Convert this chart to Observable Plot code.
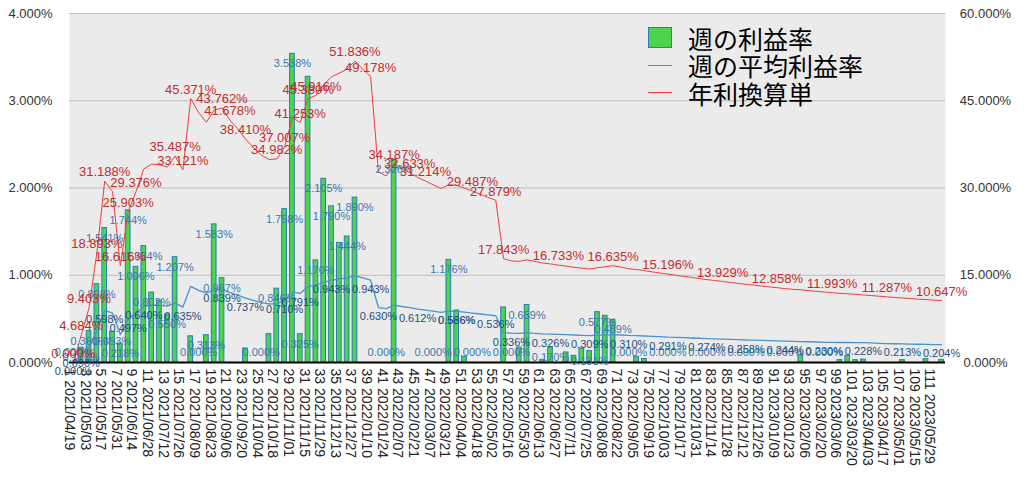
<!DOCTYPE html>
<html>
<head>
<meta charset="utf-8">
<script src="https://cdn.jsdelivr.net/npm/d3@7"></script>
<script src="https://cdn.jsdelivr.net/npm/@observablehq/plot@0.6"></script>
<style>
  body { margin: 0; background: #fff; }
  #wrap { position: relative; width: 1024px; height: 478px; }
  #legend { position: absolute; left: 648px; top: 24px; font-family: "Noto Sans CJK JP", sans-serif; font-size: 25px; color: #000; }
  #legend .row { display: flex; align-items: center; height: 27.5px; }
  #legend .sw { width: 24px; margin-right: 16px; flex: none; }
  #legend .box { height: 21px; background: #4cd44c; border: 1px solid #2b7bb9; box-sizing: border-box; }
  #legend .ln { height: 0; border-top: 1.5px solid; }
</style>
</head>
<body>
<div id="wrap">
  <div id="chart"></div>
  <div id="legend"></div>
</div>
<script>
// ---- data ----
const weekNums = Array.from({length: 112}, (_, i) => i + 1);

// 週の利益率 (weekly profit rate, %)
const weeklyRate = [
  0, 0.170, 0.360, 0.898, 1.541, 0.353, 0.218, 1.744, 1.096, 1.334,
  0.802, 0.707, 0.550, 1.207, 0, 0.300, 0, 0.313, 1.583, 0.967,
  0, 0, 0.160, 0, 0, 0.325, 0.846, 1.758, 3.538, 0.325,
  3.274, 1.170, 2.105, 1.790, 1.370, 1.444, 1.890, 0, 0, 0,
  0, 2.326, 0, 0, 0, 0, 0, 0, 1.176, 0.596,
  0.065, 0, 0, 0, 0, 0.630, 0, 0.172, 0.659, 0,
  0.030, 0.170, 0, 0.115, 0.076, 0.160, 0.131, 0.577, 0.535, 0.489,
  0, 0, 0.065, 0.040, 0, 0, 0, 0, 0, 0,
  0, 0, 0, 0, 0, 0, 0, 0, 0, 0,
  0, 0, 0, 0.085, 0, 0, 0, 0, 0.027, 0.076,
  0.027, 0.034, 0, 0, 0, 0, 0.027, 0, 0, 0.038,
  0, 0.030
];

// 週の平均利益率 (average weekly profit rate, %)
const avgRate = [
  0.000, 0.090, 0.181, 0.363, 0.598, 0.565, 0.320, 0.497, 0.565, 0.640,
  0.656, 0.654, 0.646, 0.682, 0.635, 0.873, 0.827, 0.794, 0.835, 0.839,
  0.802, 0.773, 0.737, 0.712, 0.687, 0.671, 0.673, 0.710, 0.810, 0.791,
  0.873, 0.883, 0.919, 0.943, 0.957, 0.970, 0.997, 0.969, 0.943, 0.630,
  0.617, 0.657, 0.642, 0.628, 0.612, 0.600, 0.588, 0.575, 0.588, 0.586,
  0.577, 0.567, 0.556, 0.546, 0.536, 0.343, 0.336, 0.334, 0.340, 0.334,
  0.329, 0.326, 0.322, 0.319, 0.315, 0.312, 0.309, 0.313, 0.317, 0.320,
  0.315, 0.310, 0.307, 0.304, 0.300, 0.296, 0.291, 0.288, 0.285, 0.281,
  0.278, 0.274, 0.271, 0.268, 0.265, 0.262, 0.258, 0.256, 0.253, 0.250,
  0.247, 0.244, 0.242, 0.240, 0.238, 0.235, 0.230, 0.230, 0.229, 0.229,
  0.228, 0.228, 0.224, 0.220, 0.217, 0.215, 0.213, 0.211, 0.209, 0.208,
  0.206, 0.204
];

// 年利換算単 (annualized, %, right axis)
const annualRate = [
  0.000, 4.684, 9.403, 18.893, 31.188, 29.400, 16.616, 25.903, 29.376, 33.280,
  34.100, 34.000, 33.600, 35.487, 33.121, 45.371, 43.000, 41.300, 43.400, 43.762,
  41.678, 40.200, 38.410, 37.000, 35.700, 34.900, 34.982, 37.007, 42.100, 41.253,
  45.380, 45.916, 47.800, 49.120, 49.750, 50.450, 51.836, 50.400, 49.178, 32.760,
  32.060, 34.187, 33.390, 32.633, 31.820, 31.214, 30.550, 29.910, 30.550, 30.470,
  29.980, 29.487, 28.930, 28.390, 27.879, 17.843, 17.472, 17.380, 17.660, 17.370,
  17.110, 16.952, 16.733, 16.570, 16.360, 16.230, 16.068, 16.290, 16.460, 16.635,
  16.400, 16.120, 15.990, 15.790, 15.580, 15.380, 15.196, 15.000, 14.810, 14.630,
  14.440, 14.250, 14.100, 13.929, 13.760, 13.600, 13.420, 13.300, 13.150, 13.000,
  12.858, 12.690, 12.580, 12.500, 12.370, 12.240, 12.120, 11.993, 11.890, 11.810,
  11.710, 11.610, 11.510, 11.400, 11.287, 11.180, 11.090, 10.990, 10.890, 10.820,
  10.720, 10.647
];

// x tick labels (every other week)
const xTickWeeks = [1,3,5,7,9,11,13,15,17,19,21,23,25,27,29,31,33,35,37,39,41,43,45,47,49,51,53,55,57,59,61,63,65,67,69,71,73,75,77,79,81,83,85,87,89,91,93,95,97,99,101,103,105,107,109,111];
const xTickDates = [
  "2021/04/19","2021/05/03","2021/05/17","2021/05/31","2021/06/14","2021/06/28","2021/07/12","2021/07/26",
  "2021/08/09","2021/08/23","2021/09/06","2021/09/20","2021/10/04","2021/10/18","2021/11/01","2021/11/15",
  "2021/11/29","2021/12/13","2021/12/27","2022/01/10","2022/01/24","2022/02/07","2022/02/21","2022/03/07",
  "2022/03/21","2022/04/04","2022/04/18","2022/05/02","2022/05/16","2022/05/30","2022/06/13","2022/06/27",
  "2022/07/11","2022/07/25","2022/08/08","2022/08/22","2022/09/05","2022/09/19","2022/10/03","2022/10/17",
  "2022/10/31","2022/11/14","2022/11/28","2022/12/12","2022/12/26","2023/01/09","2023/01/23","2023/02/06",
  "2023/02/20","2023/03/06","2023/03/20","2023/04/03","2023/04/17","2023/05/01","2023/05/15","2023/05/29"
];
const leftTicks = [0, 1, 2, 3, 4];
const leftTickLabels = ["0.000%", "1.000%", "2.000%", "3.000%", "4.000%"];
const rightTickLabels = ["0.000%", "15.000%", "30.000%", "45.000%", "60.000%"];
const leftMax = 4, rightMax = 60;

// weeks whose data labels are visible in the reference
const redLabelWeeks = [1,2,3,4,5,7,8,9,14,15,16,20,21,23,27,28,30,31,32,37,39,42,44,46,52,55,56,63,70,77,84,91,98,105,112];
const blueLabelWeeks = [1,2,5,8,10,15,20,23,28,30,34,39,40,45,50,55,57,62,67,72,77,82,87,92,97,102,107,112];
const barLabelWeeks = [2,3,4,5,6,7,8,9,10,11,13,14,18,19,20,27,28,29,30,32,33,34,36,37,42,49,50,59,62,67,68,70];
const zeroLabelWeeks = [1,17,25,41,47,52,57,72,77,82,87,92,97];

const seriesNames = ["週の利益率", "週の平均利益率", "年利換算単"];
const colors = { bar: "#4cd44c", barStroke: "#2b7bb9", avg: "#4b94cc", annual: "#f23c3c",
                 annualText: "#c42b2b", avgText: "#1d4f80", barText: "#3b78ad" };

// ---- build ----
const data = weekNums.map((w, i) => ({ week: w, rate: weeklyRate[i], avg: avgRate[i], annual: annualRate[i] }));
const toLeft = v => v * leftMax / rightMax;
const pct = v => v.toFixed(3) + "%";

const chart = Plot.plot({
  width: 1024,
  height: 478,
  marginLeft: 69,
  marginRight: 79,
  marginTop: 13,
  marginBottom: 116,
  style: { fontFamily: '"Liberation Sans", Arial, sans-serif', background: "#fff", overflow: "visible" },
  x: { type: "band", domain: weekNums, paddingInner: 0.4, paddingOuter: 0.2, axis: null, label: null },
  y: { domain: [0, leftMax], axis: null, label: null },
  marks: [
    Plot.frame({ fill: "#ebebeb", stroke: null }),
    Plot.gridY(leftTicks.slice(1), { stroke: "#bdbdbd", strokeOpacity: 1, strokeWidth: 1 }),
    Plot.barY(data.filter(d => d.rate > 0), { x: "week", y: "rate", fill: colors.bar, stroke: colors.barStroke, strokeWidth: 1 }),
    Plot.line(data, { x: "week", y: "avg", stroke: colors.avg, strokeWidth: 1.3 }),
    Plot.line(data, { x: "week", y: d => toLeft(d.annual), stroke: colors.annual, strokeWidth: 1 }),
    Plot.ruleY([0], { stroke: "#000", strokeWidth: 2 }),
    Plot.axisY({ ticks: leftTicks, tickFormat: d => leftTickLabels[leftTicks.indexOf(d)], tickSize: 0, tickPadding: 17, fontSize: 13, color: "#333", label: null }),
    Plot.axisY({ anchor: "right", ticks: leftTicks, tickFormat: d => rightTickLabels[leftTicks.indexOf(d)], tickSize: 0, tickPadding: 40, textAnchor: "middle", fontSize: 13, color: "#333", label: null }),
    Plot.axisX({ ticks: xTickWeeks, tickFormat: w => `${w} ${xTickDates[xTickWeeks.indexOf(w)]}`, tickRotate: 90, tickSize: 0, tickPadding: 6, fontSize: 14, color: "#222", dx: -4, label: null }),
    Plot.text(data.filter(d => barLabelWeeks.includes(d.week)), { x: "week", y: "rate", text: d => pct(d.rate), fill: colors.barText, fontSize: 11, dy: 10 }),
    Plot.text(data.filter(d => zeroLabelWeeks.includes(d.week)), { x: "week", y: "rate", text: d => pct(d.rate), fill: colors.barText, fontSize: 11, dy: -10 }),
    Plot.text(data.filter(d => blueLabelWeeks.includes(d.week)), { x: "week", y: "avg", text: d => pct(d.avg), fill: colors.avgText, fontSize: 11, dy: 9 }),
    Plot.text(data.filter(d => redLabelWeeks.includes(d.week)), { x: "week", y: d => toLeft(d.annual), text: d => pct(d.annual), fill: colors.annualText, fontSize: 13, dy: -9 })
  ]
});
document.getElementById("chart").appendChild(chart);

// legend (inside plot area, top right)
const legend = document.getElementById("legend");
const swatches = [
  '<div class="sw box"></div>',
  `<div class="sw ln" style="border-color:${colors.avg}"></div>`,
  `<div class="sw ln" style="border-color:${colors.annual}"></div>`
];
seriesNames.forEach((name, i) => {
  const row = document.createElement("div");
  row.className = "row";
  row.innerHTML = swatches[i] + `<span>${name}</span>`;
  legend.appendChild(row);
});
</script>
</body>
</html>
